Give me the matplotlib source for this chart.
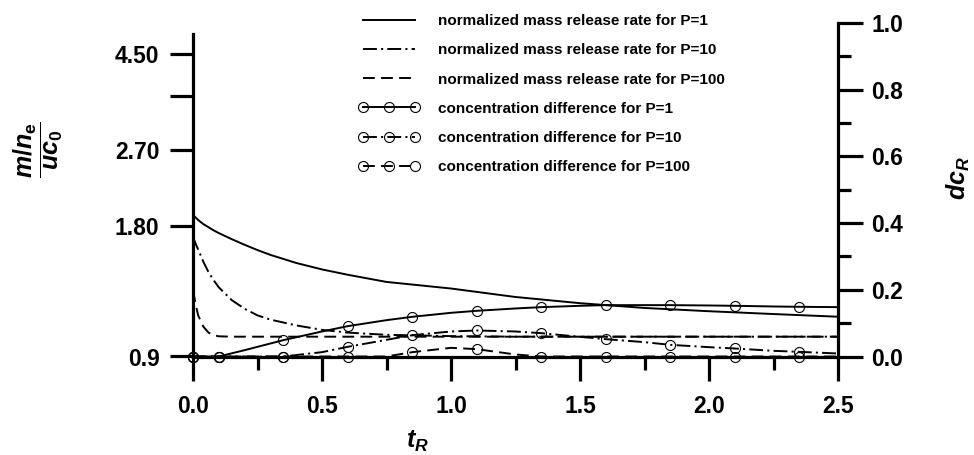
import matplotlib
matplotlib.use('Agg')
import matplotlib.pyplot as plt
from matplotlib.lines import Line2D
from matplotlib.ticker import FixedLocator, FixedFormatter, NullLocator, MultipleLocator

plt.rcParams['font.family'] = ['Liberation Sans', 'DejaVu Sans']
plt.rcParams['font.weight'] = 'bold'
plt.rcParams['mathtext.fontset'] = 'custom'
plt.rcParams['mathtext.it'] = 'Liberation Sans:italic:bold'
plt.rcParams['mathtext.rm'] = 'Liberation Sans:bold'
plt.rcParams['mathtext.bf'] = 'Liberation Sans:bold'
plt.rcParams['lines.scale_dashes'] = False

# ---------------- data ----------------
# normalized mass release rate (left, log axis)
t_m = [0, 0.01, 0.02, 0.04, 0.06, 0.08, 0.1, 0.15, 0.2, 0.25, 0.3, 0.4, 0.5,
       0.6, 0.75, 1.0, 1.25, 1.5, 1.75, 2.0, 2.25, 2.5]
m_p1 = [1.91, 1.885, 1.86, 1.82, 1.79, 1.76, 1.735, 1.68, 1.63, 1.585, 1.545,
        1.48, 1.43, 1.39, 1.338, 1.292, 1.235, 1.195, 1.165, 1.145, 1.128, 1.112]
m_p10 = [1.70, 1.64, 1.59, 1.49, 1.41, 1.35, 1.30, 1.215, 1.16, 1.12, 1.095,
         1.062, 1.037, 1.022, 1.01, 1.003, 1.0, 1.0, 1.0, 1.0, 1.0, 1.0]
m_p100 = [1.28, 1.19, 1.12, 1.055, 1.022, 1.008, 1.002, 1.0, 1.0, 1.0, 1.0,
          1.0, 1.0, 1.0, 1.0, 1.0, 1.0, 1.0, 1.0, 1.0, 1.0, 1.0]

# concentration difference (right axis)
t_dc = [0, 0.1, 0.2, 0.35, 0.5, 0.6, 0.75, 0.85, 1.0, 1.1, 1.25, 1.35, 1.5,
        1.6, 1.75, 1.85, 2.0, 2.1, 2.25, 2.35, 2.5]
dc_p1 = [0, 0, 0.019, 0.049, 0.075, 0.091, 0.109, 0.119, 0.131, 0.137, 0.144,
         0.148, 0.152, 0.154, 0.154, 0.154, 0.153, 0.152, 0.150, 0.149, 0.148]
dc_p10 = [0, 0, 0, 0, 0.013, 0.029, 0.050, 0.064, 0.075, 0.078, 0.075, 0.070,
          0.059, 0.052, 0.043, 0.035, 0.028, 0.024, 0.017, 0.014, 0.009]
dc_p100 = [0, 0, 0, 0, 0, 0, 0, 0.013, 0.026, 0.022, 0.006, 0, 0, 0, 0, 0,
           0, 0, 0, 0, 0]
marker_idx = [0, 1, 3, 5, 7, 9, 11, 13, 15, 17, 19]

labels = ['normalized mass release rate for P=1',
          'normalized mass release rate for P=10',
          'normalized mass release rate for P=100',
          'concentration difference for P=1',
          'concentration difference for P=10',
          'concentration difference for P=100']

left_ticks = [0.9, 1.8, 2.7, 3.6, 4.5]
left_ticklabels = ['0.9', '1.80', '2.70', '', '4.50']
right_ticks = [0.0, 0.2, 0.4, 0.6, 0.8, 1.0]
right_ticklabels = ['0.0', '0.2', '0.4', '0.6', '0.8', '1.0']
x_ticks = [0.0, 0.5, 1.0, 1.5, 2.0, 2.5]
x_ticklabels = ['0.0', '0.5', '1.0', '1.5', '2.0', '2.5']

# ---------------- figure ----------------
W, H = 974, 455
fig = plt.figure(figsize=(W / 100, H / 100), dpi=100)
x0, x1, yb, yt = 193, 838, 356.5, 23
ax = fig.add_axes([x0 / W, 1 - yb / H, (x1 - x0) / W, (yb - yt) / H])
ax2 = ax.twinx()

lw = 1.4
dashdot = (0, (10, 3, 1.5, 3))
dashed = (0, (8.5, 4.5))

ax.plot(t_m, m_p1, color='black', lw=lw, ls='-')
ax.plot(t_m, m_p10, color='black', lw=lw, ls=dashdot)
ax.plot(t_m, m_p100, color='black', lw=lw, ls=dashed)

mk = dict(marker='o', ms=7.2, mfc='none', mec='black', mew=0.8,
          markevery=marker_idx, clip_on=False)
ax2.plot(t_dc, dc_p1, color='black', lw=lw, ls='-', **mk)
ax2.plot(t_dc, dc_p10, color='black', lw=lw, ls=dashdot, **mk)
ax2.plot(t_dc, dc_p100, color='black', lw=lw, ls=dashed, **mk)

# axes scales
ax.set_xlim(0, 2.5)
ax.set_yscale('log')
ax.set_ylim(0.9, 0.9 * 10 ** ((yb - yt) / 433.0))
ax2.set_ylim(0, 1.0)

spw = 2.3
for a in (ax, ax2):
    a.spines['top'].set_visible(False)
    for s in ('left', 'right', 'bottom'):
        a.spines[s].set_linewidth(spw)
ax.spines['right'].set_visible(False)
ax2.spines['left'].set_visible(False)
ax2.spines['bottom'].set_visible(False)
ax.spines['left'].set_bounds(0.9, 5.0)

ax.xaxis.set_major_locator(FixedLocator(x_ticks))
ax.xaxis.set_major_formatter(FixedFormatter(x_ticklabels))
ax.xaxis.set_minor_locator(MultipleLocator(0.25))
ax.tick_params(axis='x', which='major', direction='out', length=17.3,
               width=spw, labelsize=16.5, pad=10.5)
ax.tick_params(axis='x', which='minor', direction='out', length=9.4, width=spw)

ax.yaxis.set_major_locator(FixedLocator(left_ticks))
ax.yaxis.set_major_formatter(FixedFormatter(left_ticklabels))
ax.yaxis.set_minor_locator(NullLocator())
ax.tick_params(axis='y', which='major', direction='out', length=16.6,
               width=spw, labelsize=16.5, pad=7.5)

ax2.yaxis.set_major_locator(FixedLocator(right_ticks))
ax2.yaxis.set_major_formatter(FixedFormatter(right_ticklabels))
ax2.yaxis.set_minor_locator(MultipleLocator(0.1))
ax2.tick_params(axis='y', which='major', direction='out', length=18,
                width=spw, labelsize=16.5, pad=6)
ax2.tick_params(axis='y', which='minor', direction='out', length=9.7, width=spw)

for lab in ax.get_xticklabels() + ax.get_yticklabels() + ax2.get_yticklabels():
    lab.set_fontweight('bold')

# axis titles
fig.text(417 / W, 1 - 441 / H, r'$t_R$', ha='center', va='center', fontsize=18)
fig.text(38 / W, 1 - 150 / H, r'$\dfrac{m/n_\mathrm{e}}{uc_0}$', ha='center',
         va='center', rotation=90, fontsize=18)
fig.text(958 / W, 1 - 178 / H, r'$dc_R$', ha='center', va='center',
         rotation=90, fontsize=18)

# legend (proxy handles carrying the same styles)
handles = [
    Line2D([], [], color='black', lw=lw, ls='-'),
    Line2D([], [], color='black', lw=lw, ls=dashdot),
    Line2D([], [], color='black', lw=lw, ls=dashed),
    Line2D([], [], color='black', lw=lw, ls='-', marker='o', ms=7.2,
           mfc='none', mec='black', mew=0.8),
    Line2D([], [], color='black', lw=lw, ls=dashdot, marker='o', ms=7.2,
           mfc='none', mec='black', mew=0.8),
    Line2D([], [], color='black', lw=lw, ls=dashed, marker='o', ms=7.2,
           mfc='none', mec='black', mew=0.8),
]
leg = ax2.legend(handles, labels, loc='upper left',
                 bbox_to_anchor=(358 / W, 1 - 14 / H),
                 bbox_transform=fig.transFigure, frameon=False,
                 handlelength=4.0, handletextpad=1.25, labelspacing=1.0,
                 borderpad=0, borderaxespad=0, numpoints=3,
                 prop={'weight': 'bold', 'size': 11})

fig.savefig('out.png', dpi=100)
